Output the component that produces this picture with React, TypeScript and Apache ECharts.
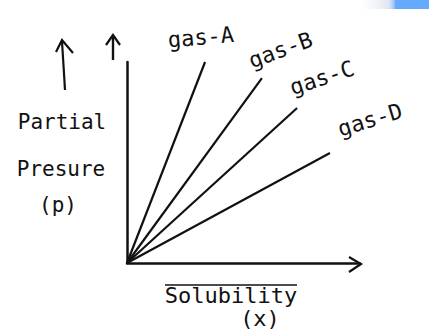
import React, { useEffect, useRef } from "react";
import * as echarts from "echarts";

// Gas lines: partial pressure (p) against solubility (x), all from the origin
const gasNames = ["gas-A", "gas-B", "gas-C", "gas-D"];
const solubilityEnd = [3.35, 5.79, 7.3, 8.71];
const pressureEnd = [10.0, 9.2, 7.71, 5.47];

// Axis captions
const yCaption = ["Partial", "Presure", "(p)"];
const xCaption = ["Solubility", "(x)"];

// Label placement for each gas name (offset from the line end, rotation)
const labelStyle = [
  { offset: [-2, -25], rotate: 5 },
  { offset: [27, -20], rotate: 20 },
  { offset: [33, -21], rotate: 18 },
  { offset: [48, -20], rotate: 17 },
];

const FONT = "DejaVu Sans Mono";
const INK = "#111";

export default function App() {
  const ref = useRef<HTMLDivElement>(null);

  useEffect(() => {
    if (!ref.current) return;
    const chart = echarts.init(ref.current, undefined, { renderer: "svg" });

    const series = gasNames.map((name, i) => ({
      type: "line",
      name,
      clip: false,
      symbol: "circle",
      symbolSize: 1,
      showSymbol: true,
      itemStyle: { color: "transparent" },
      lineStyle: { color: INK, width: 2.2 },
      data: [
        { value: [0, 0], label: { show: false } },
        {
          value: [solubilityEnd[i], pressureEnd[i]],
          label: {
            show: true,
            formatter: name,
            position: "inside",
            offset: labelStyle[i].offset,
            rotate: labelStyle[i].rotate,
            align: "center",
            verticalAlign: "middle",
            color: INK,
            fontFamily: FONT,
            fontSize: 22,
          },
        },
      ],
    }));

    const textStyle = (size: number) => ({
      fill: INK,
      font: `${size}px "${FONT}"`,
      textAlign: "center",
      textVerticalAlign: "middle",
    });

    chart.setOption({
      animation: false,
      backgroundColor: "#fff",
      grid: { left: 127, right: 69, top: 62, bottom: 66 },
      xAxis: {
        type: "value",
        min: 0,
        max: 10,
        axisLine: { show: true, lineStyle: { color: INK, width: 2.5 } },
        axisTick: { show: false },
        axisLabel: { show: false },
        splitLine: { show: false },
      },
      yAxis: {
        type: "value",
        min: 0,
        max: 10,
        axisLine: { show: true, lineStyle: { color: INK, width: 2.5 } },
        axisTick: { show: false },
        axisLabel: { show: false },
        splitLine: { show: false },
      },
      series,
      graphic: [
        // faded blue strip in the top-right corner
        {
          type: "rect",
          shape: { x: 362, y: 0, width: 67, height: 9 },
          style: {
            fill: new echarts.graphic.LinearGradient(0, 0, 1, 0, [
              { offset: 0, color: "#ffffff" },
              { offset: 0.25, color: "#eef0f4" },
              { offset: 0.4, color: "#dfe6f2" },
              { offset: 0.48, color: "#9cc3fb" },
              { offset: 0.5, color: "#66aaff" },
              { offset: 1, color: "#66aaff" },
            ]),
          },
        },
        // x-axis arrow head
        {
          type: "polyline",
          shape: { points: [[349, 257], [361, 264], [349, 272]] },
          style: { stroke: INK, lineWidth: 2.2, fill: "none" },
        },
        // arrow above the pressure axis
        {
          type: "line",
          shape: { x1: 113, y1: 60, x2: 113, y2: 36 },
          style: { stroke: INK, lineWidth: 2.4 },
        },
        {
          type: "polyline",
          shape: { points: [[106, 45], [113, 35], [120, 45]] },
          style: { stroke: INK, lineWidth: 2.2, fill: "none" },
        },
        // arrow beside the caption
        {
          type: "line",
          shape: { x1: 65, y1: 90, x2: 62, y2: 41 },
          style: { stroke: INK, lineWidth: 2.2 },
        },
        {
          type: "polyline",
          shape: { points: [[56, 52], [62, 40], [73, 53]] },
          style: { stroke: INK, lineWidth: 2.2, fill: "none" },
        },
        // pressure caption
        { type: "text", x: 62, y: 122, style: { text: yCaption[0], ...textStyle(21) } },
        { type: "text", x: 61, y: 169, style: { text: yCaption[1], ...textStyle(21) } },
        { type: "text", x: 58, y: 205, style: { text: yCaption[2], ...textStyle(21) } },
        // solubility caption with its overline
        {
          type: "line",
          shape: { x1: 165, y1: 285, x2: 297, y2: 285 },
          style: { stroke: INK, lineWidth: 1.6 },
        },
        { type: "text", x: 231, y: 295, style: { text: xCaption[0], ...textStyle(22) } },
        { type: "text", x: 260, y: 318, style: { text: xCaption[1], ...textStyle(22) } },
      ],
    });

    return () => chart.dispose();
  }, []);

  return (
    <div
      ref={ref}
      style={{ position: "fixed", left: 0, top: 0, width: 429, height: 329 }}
    />
  );
}
